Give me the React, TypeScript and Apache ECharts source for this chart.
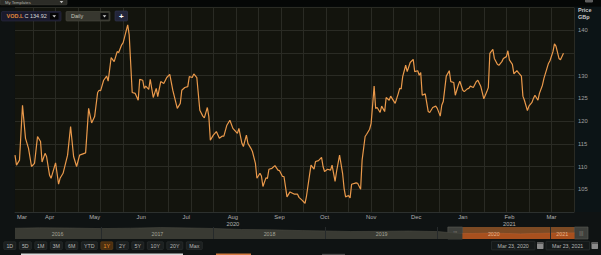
import React, { useEffect, useRef } from 'react';
import * as echarts from 'echarts';

// ---------- main price series (VOD.L close, GBp) ----------
const priceDates = [
  '2020-03-23','2020-03-24','2020-03-26','2020-03-28','2020-03-30',
  '2020-04-01','2020-04-03','2020-04-05','2020-04-07','2020-04-09','2020-04-10','2020-04-12','2020-04-13','2020-04-15','2020-04-16','2020-04-19','2020-04-21','2020-04-22','2020-04-24','2020-04-27','2020-04-29',
  '2020-05-01','2020-05-03','2020-05-05','2020-05-09','2020-05-11','2020-05-13','2020-05-15','2020-05-17','2020-05-18','2020-05-19','2020-05-21','2020-05-23','2020-05-24','2020-05-26','2020-05-28','2020-05-30','2020-05-31',
  '2020-06-02','2020-06-03','2020-06-06','2020-06-07','2020-06-09','2020-06-11','2020-06-13','2020-06-14','2020-06-16','2020-06-17','2020-06-18','2020-06-20','2020-06-21','2020-06-23','2020-06-25','2020-06-26','2020-06-28','2020-06-30',
  '2020-07-02','2020-07-04','2020-07-06','2020-07-09','2020-07-11','2020-07-12','2020-07-14','2020-07-16','2020-07-17','2020-07-19','2020-07-20','2020-07-22','2020-07-24','2020-07-26','2020-07-27','2020-07-29','2020-07-30','2020-07-31',
  '2020-08-02','2020-08-04','2020-08-06','2020-08-08','2020-08-09','2020-08-11','2020-08-13','2020-08-15','2020-08-18','2020-08-19','2020-08-21','2020-08-22','2020-08-24','2020-08-25','2020-08-27','2020-08-28','2020-08-30','2020-08-31',
  '2020-09-02','2020-09-03','2020-09-04','2020-09-06','2020-09-07','2020-09-08','2020-09-10','2020-09-12','2020-09-14','2020-09-15','2020-09-17','2020-09-18','2020-09-20','2020-09-22','2020-09-25','2020-09-27','2020-09-28','2020-09-30',
  '2020-10-02','2020-10-03','2020-10-05','2020-10-06','2020-10-08','2020-10-09','2020-10-11','2020-10-13','2020-10-14','2020-10-15','2020-10-17','2020-10-19','2020-10-20','2020-10-22','2020-10-23','2020-10-25','2020-10-27','2020-10-28','2020-10-29','2020-10-31',
  '2020-11-01','2020-11-02','2020-11-05','2020-11-06','2020-11-08','2020-11-09','2020-11-11','2020-11-12','2020-11-14','2020-11-15','2020-11-17','2020-11-18','2020-11-19','2020-11-21','2020-11-22','2020-11-24','2020-11-25','2020-11-27','2020-11-28',
  '2020-12-01','2020-12-03','2020-12-04','2020-12-05','2020-12-06','2020-12-08','2020-12-09','2020-12-11','2020-12-13','2020-12-14','2020-12-16','2020-12-17','2020-12-18','2020-12-19','2020-12-21','2020-12-23','2020-12-24','2020-12-26','2020-12-28','2020-12-29','2020-12-31',
  '2021-01-01','2021-01-02','2021-01-04','2021-01-06','2021-01-07','2021-01-09','2021-01-10','2021-01-12','2021-01-13','2021-01-15','2021-01-16','2021-01-18','2021-01-19','2021-01-20','2021-01-22','2021-01-24','2021-01-25','2021-01-27','2021-01-29','2021-01-31',
  '2021-02-01','2021-02-02','2021-02-04','2021-02-05','2021-02-07','2021-02-08','2021-02-10','2021-02-11','2021-02-13','2021-02-14','2021-02-15','2021-02-17','2021-02-18','2021-02-20','2021-02-21','2021-02-23','2021-02-24','2021-02-25','2021-02-27','2021-02-28',
  '2021-03-02','2021-03-03','2021-03-04','2021-03-06','2021-03-07','2021-03-09','2021-03-10','2021-03-12','2021-03-13','2021-03-14','2021-03-16','2021-03-17','2021-03-18','2021-03-20','2021-03-21','2021-03-23',
];
const priceValues = [
  112.5, 110.3, 111.4, 123.5, 116.2,
  114, 110, 110.7, 116.6, 115.5, 111, 112.9, 112.2, 108.1, 107.4, 110.8, 106.1, 107.4, 108.5, 112.5, 118.8,
  112.2, 110, 112.5, 113, 122.8, 119.6, 121, 126.3, 126.8, 126.7, 129, 129.9, 128.8, 134, 133.1, 135.3, 135.1,
  136.8, 137.3, 141.2, 139, 126.3, 126.1, 124.6, 129.2, 129, 127.2, 127.7, 127, 129.2, 125.2, 127.2, 125.4, 128.7, 128.3,
  129.6, 130.3, 126.8, 122.8, 123.9, 126.8, 127.4, 127.6, 129.8, 129.6, 130.4, 129.6, 122.4, 121.1, 120.7, 123, 121, 115.8,
  116.9, 117.7, 116.2, 116.7, 116.7, 119.1, 120.2, 118.4, 117.3, 118.4, 115.1, 114.4, 116.9, 115.1, 114, 113.3, 110.7, 107.4,
  108.5, 107.9, 105.6, 107.5, 107.4, 109.4, 109.6, 110.2, 109.2, 109.1, 107.8, 107.8, 103.3, 104.4, 103.9, 103.9, 103.2, 102.6,
  101.9, 103.5, 108.1, 110.3, 109.4, 111.1, 111.3, 112, 110, 108.9, 109.4, 109.2, 110.3, 106.7, 108.9, 112.5, 108.5, 105.2, 103.3, 103.6,
  103.1, 106.1, 106.4, 106.3, 105, 111.4, 116.6, 117.1, 118.2, 119.5, 127.7, 122.8, 123, 121.9, 123.3, 122.1, 125.2, 124.6, 125.5,
  123.9, 126, 127.2, 127.1, 129.8, 132.3, 130.9, 132.9, 133.6, 130.9, 131.1, 130.1, 130.7, 125.7, 126, 122.1, 121.9, 123, 123.3, 122.8, 121.1,
  123.5, 124.3, 129.9, 131.1, 128.7, 128.5, 125.7, 127.9, 128.8, 126.8, 126.5, 127.1, 127.2, 127.7, 127.4, 128.7, 129, 127.6, 124.9, 126.5,
  127.4, 134.9, 135.8, 133.8, 132.5, 132.3, 133.1, 133.8, 134.2, 135.5, 133.5, 132.5, 130.4, 131.1, 130.7, 129.9, 125.5, 124.6, 122.3, 123.3,
  124.1, 125, 125.7, 124.6, 126.1, 127.9, 129.4, 131.6, 132.7, 133.3, 135.3, 137, 136.5, 133.8, 133.5, 134.92,
];
const lastPrice = 134.92;
const axisEndDate = '2021-03-30';
const monthNames = ['Jan','Feb','Mar','Apr','May','Jun','Jul','Aug','Sep','Oct','Nov','Dec'];
const yearLabelAt: Record<string, string> = { '2020-08-15': '2020', '2021-02-15': '2021' };
const yMin = 100;
const yMax = 145;
const yStep = 5;

// ---------- navigator (5-year history) ----------
const navYears = [2016.23, 2016.45, 2016.72, 2016.99, 2017.26, 2017.53, 2017.8, 2018.0, 2018.25, 2018.52, 2018.79, 2019.0, 2019.22, 2019.48, 2019.75, 2020.0, 2020.22, 2020.47, 2020.74, 2021.0, 2021.22];
const navValues = [224, 233, 229, 217, 225, 238, 229, 219, 198, 192, 175, 167, 156, 160, 167, 154, 112, 125, 108, 125, 129];
const navSelection = [2020.22, 2021.22];
const navHandles = [[2020.09, 2020.22], [2021.22, 2021.34]];
const navRange = [2016.23, 2021.34];
const navYearBreaks = [2017, 2018, 2019, 2020, 2021];
const navYearLabels = [2016.61, 2017.5, 2018.5, 2019.5, 2020.5, 2021.11];

// ---------- toolbar ----------
const rangeButtons = ['1D', '5D', '1M', '3M', '6M', 'YTD', '1Y', '2Y', '5Y', '10Y', '20Y', 'Max'];
const activeRange = '1Y';
const rangeFrom = 'Mar 23, 2020';
const rangeTo = 'Mar 23, 2021';

const FONT = 'Liberation Sans, Arial, sans-serif';

function dayList(start: string, end: string): string[] {
  const out: string[] = [];
  let t = Date.parse(start + 'T00:00:00Z');
  const e = Date.parse(end + 'T00:00:00Z');
  while (t <= e) {
    out.push(new Date(t).toISOString().slice(0, 10));
    t += 86400000;
  }
  return out;
}

function txt(text: string, x: number, y: number, fill: string, fontSize = 5.5, extra: any = {}) {
  return {
    type: 'text',
    z: 100,
    silent: true,
    style: { text, x, y, fill, fontSize, fontFamily: FONT, verticalAlign: 'middle', ...extra },
  };
}
function box(x: number, y: number, w: number, h: number, fill: string, stroke?: string, r = 1, z = 99) {
  return {
    type: 'rect',
    z,
    silent: true,
    shape: { x, y, width: w, height: h, r },
    style: stroke ? { fill, stroke, lineWidth: 0.6 } : { fill },
  };
}
function tri(cx: number, cy: number, fill: string) {
  return {
    type: 'polygon',
    z: 101,
    silent: true,
    shape: { points: [[cx - 1.8, cy - 1], [cx + 1.8, cy - 1], [cx, cy + 1.2]] },
    style: { fill },
  };
}

function buildGraphics() {
  const g: any[] = [];
  // background regions
  g.push(box(0, 0, 601, 6.8, '#050706', undefined, 0, -10));
  g.push(box(574, 6.8, 27, 205.2, '#0c1416', undefined, 0, -10));
  // top template dropdown
  g.push(box(0, -1, 67, 5.8, '#2c2c27', '#45453c'));
  g.push(txt('My Templates', 5, 2.3, '#b0b0a8', 4.2));
  g.push(tri(61.5, 2, '#c0c0c0'));
  g.push(box(585, -1.5, 8, 4, '#5e5e5e', undefined, 1.2));
  // legend chips
  g.push(box(1.5, 11.5, 59.5, 9.5, '#1a1a2d', '#2b2b45'));
  g.push(txt('VOD.L', 6.5, 16.3, '#e0883a', 5.5, { fontWeight: 'bold' }));
  g.push(txt('C 134.92', 24.5, 16.3, '#d8d8d8', 5.5));
  g.push(box(50, 13, 8.5, 6.5, '#050505', undefined, 0.5, 100));
  g.push(tri(54.25, 16.2, '#d0d0d0'));
  g.push(box(66, 11.5, 44, 9.5, '#37372f', '#4a4a40'));
  g.push(txt('Daily', 71, 16.3, '#c5c5bd', 5.5));
  g.push(box(100.5, 13, 8, 6.5, '#0b0b0b', undefined, 0.5, 100));
  g.push(tri(104.5, 16.2, '#d0d0d0'));
  g.push(box(115, 11, 12.5, 10, '#23253a', '#34364f'));
  g.push(txt('+', 121.25, 16, '#ffffff', 8, { align: 'center', fontWeight: 'bold' }));
  // right axis header
  g.push(txt('Price', 578, 10, '#c8c8c8', 5.5, { fontWeight: 'bold' }));
  g.push(txt('GBp', 578, 17, '#c8c8c8', 5.5, { fontWeight: 'bold' }));
  // range buttons
  let x = 3.8;
  rangeButtons.forEach((b) => {
    const w = b.length === 3 ? 16 : 12;
    const active = b === activeRange;
    g.push(box(x, 241.8, w, 7.6, active ? '#4b2f10' : '#1b1f1f', active ? '#6a4418' : '#2f3434', 0.8));
    g.push(txt(b, x + w / 2, 245.7, active ? '#e8922e' : '#b8b8b8', 5.3, { align: 'center' }));
    x += w + 3.5;
  });
  // date fields
  [[rangeFrom, 491.5], [rangeTo, 546]].forEach(([label, x0]: any) => {
    g.push(box(x0, 241.3, 43.5, 8.6, '#151919', '#2f3434', 0.5));
    g.push(txt(label, x0 + 21.7, 245.7, '#b4b4b4', 5.3, { align: 'center' }));
    g.push(box(x0 + 45.5, 242.3, 6.5, 6.6, '#8a8a8a', undefined, 0.6));
    g.push(box(x0 + 45.5, 242.3, 6.5, 1.6, '#5a5a5a', undefined, 0.3, 100));
  });
  // bottom strip (edge of the next window)
  g.push(box(21, 253.4, 162, 2, '#d9d9d9', undefined, 0));
  g.push(box(216, 253.4, 35, 2, '#d27a3f', undefined, 0));
  g.push(box(322, 253.8, 23, 1.6, '#4a4a4a', undefined, 0));
  return g;
}

export default function App() {
  const ref = useRef<HTMLDivElement>(null);

  useEffect(() => {
    if (!ref.current) return;
    const chart = echarts.init(ref.current, null, { renderer: 'svg' });

    const allDays = dayList(priceDates[0], axisEndDate);
    const priceMap = new Map<string, number>();
    priceDates.forEach((d, i) => priceMap.set(d, priceValues[i]));
    const mainData = allDays.map((d) => (priceMap.has(d) ? priceMap.get(d)! : null));

    const navData = navYears.map((y, i) => [y, navValues[i]]);
    const navSelData = navData.filter((p) => p[0] >= navSelection[0] && p[0] <= navSelection[1]);

    const option: any = {
      animation: false,
      backgroundColor: '#0f1313',
      textStyle: { fontFamily: FONT },
      grid: [
        { left: 0, right: 27, top: 7.6, bottom: 43.1, show: true, backgroundColor: '#13140d', borderWidth: 0 },
        { left: 15, right: 13, top: 227, height: 12, show: false },
      ],
      xAxis: [
        {
          gridIndex: 0,
          type: 'category',
          data: allDays,
          boundaryGap: false,
          axisLine: { show: true, lineStyle: { color: '#2c302e', width: 1 } },
          axisTick: { show: false },
          axisLabel: {
            interval: (i: number, v: string) => i === 0 || v.endsWith('-15'),
            formatter: (v: string, i: number) => {
              const m = monthNames[parseInt(v.slice(5, 7), 10) - 1];
              if (i === 0) return '{first|' + m + '}';
              return yearLabelAt[v] ? m + '\n' + yearLabelAt[v] : m;
            },
            color: '#b0b0b0',
            fontSize: 5.8,
            lineHeight: 6.6,
            margin: 2,
            rich: { first: { padding: [0, 0, 0, 14], color: '#b0b0b0', fontSize: 5.8 } },
          },
          splitLine: {
            show: true,
            interval: (i: number) => i % 15 === 12,
            lineStyle: { color: '#2a2b24', width: 1 },
          },
        },
        {
          gridIndex: 1,
          type: 'value',
          min: navRange[0],
          max: navRange[1],
          z: 5,
          axisLine: { show: false },
          splitLine: { show: false },
          axisTick: {
            show: true,
            customValues: navYearBreaks,
            inside: true,
            length: 12,
            lineStyle: { color: '#262a2b', width: 1 },
          },
          axisLabel: {
            customValues: navYearLabels,
            inside: true,
            margin: 3,
            fontSize: 5.3,
            color: (v: number) => (v >= navSelection[0] ? '#e8b48a' : '#a4a498'),
            formatter: (v: number) => String(Math.floor(v)),
          },
        },
      ],
      yAxis: [
        {
          gridIndex: 0,
          type: 'value',
          position: 'right',
          min: yMin,
          max: yMax,
          interval: yStep,
          axisLine: { show: false },
          axisTick: { show: false },
          axisLabel: {
            color: '#a0a0a0',
            fontSize: 5.8,
            margin: 4,
            showMinLabel: false,
            showMaxLabel: false,
            // the tick nearest the last-price badge sits under it
            formatter: (v: number) => (Math.abs(v - lastPrice) < yStep / 2 ? '' : String(v)),
          },
          splitLine: { show: true, lineStyle: { color: '#2a2b24', width: 1 } },
        },
        { gridIndex: 1, type: 'value', min: 0, max: 250, show: false },
      ],
      series: [
        {
          type: 'line',
          xAxisIndex: 0,
          yAxisIndex: 0,
          data: mainData,
          connectNulls: true,
          symbol: 'none',
          showSymbol: false,
          clip: false,
          z: 3,
          lineStyle: { color: '#ea994b', width: 1.2 },
          markLine: {
            silent: true,
            symbol: 'none',
            data: [{ yAxis: lastPrice }],
            lineStyle: { opacity: 0, width: 0 },
            label: {
              show: true,
              position: 'end',
              distance: 1,
              formatter: lastPrice.toFixed(2),
              backgroundColor: '#f2a151',
              color: '#1b1206',
              fontSize: 5.8,
              padding: [1.6, 4, 1, 3.5],
            },
          },
        },
        {
          type: 'line',
          xAxisIndex: 1,
          yAxisIndex: 1,
          data: navData,
          symbol: 'none',
          showSymbol: false,
          z: 2,
          lineStyle: { color: '#4a4a42', width: 0.6 },
          areaStyle: { color: '#393a33', opacity: 1 },
          markArea: {
            silent: true,
            data: [
              [{ xAxis: navSelection[0], itemStyle: { color: '#7c4a24' }, label: { show: false } }, { xAxis: navSelection[1] }],
              ...navHandles.map((h) => [
                {
                  xAxis: h[0],
                  itemStyle: { color: '#3d3f3b', borderColor: '#5a5c56', borderWidth: 0.6 },
                  label: { show: true, position: 'inside', formatter: '|||', color: '#8a8a84', fontSize: 5 },
                },
                { xAxis: h[1] },
              ]),
            ],
          },
        },
        {
          type: 'line',
          xAxisIndex: 1,
          yAxisIndex: 1,
          data: navSelData,
          symbol: 'none',
          showSymbol: false,
          z: 4,
          lineStyle: { color: '#c0602a', width: 0.6 },
          areaStyle: { color: '#a8501e', opacity: 1 },
        },
      ],
      graphic: buildGraphics(),
    };

    chart.setOption(option);
    return () => chart.dispose();
  }, []);

  return (
    <div style={{ position: 'fixed', left: 0, top: 0, width: 601, height: 255, background: '#0f1313' }}>
      <div ref={ref} style={{ width: 601, height: 255 }} />
    </div>
  );
}
